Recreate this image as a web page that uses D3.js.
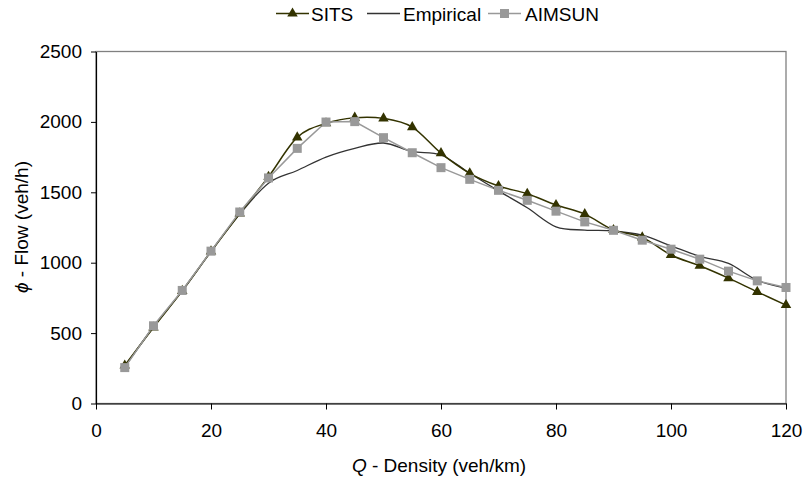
<!DOCTYPE html>
<html><head><meta charset="utf-8">
<script src="https://cdn.jsdelivr.net/npm/d3@7"></script>
<style>body{margin:0;background:#fff}svg{font-family:"Liberation Sans",Arial,sans-serif}</style>
</head><body><svg id="c" width="803" height="477"></svg>
<script>
const density = [5,10,15,20,25,30,35,40,45,50,55,60,65,70,75,80,85,90,95,100,105,110,115,120];
const sits = [270,540,800,1080,1350,1610,1890,1990,2030,2025,1963,1778,1635,1545,1490,1410,1345,1232,1180,1055,978,890,793,699];
const empirical = [260,545,800,1080,1345,1565,1655,1750,1812,1850,1790,1765,1635,1510,1390,1255,1232,1225,1195,1120,1045,995,875,820];
const aimsun = [255,552,803,1082,1360,1602,1812,1999,2002,1888,1781,1675,1592,1514,1443,1366,1290,1230,1160,1096,1025,940,871,824];
const xTicks = [0,20,40,60,80,100,120];
const yTicks = [0,500,1000,1500,2000,2500];

const FS = 19;
const svg = d3.select("#c");
const L=96,R=786,T=51.5,B=403.5;
const x = d3.scaleLinear().domain([0,120]).range([L,R]);
const y = d3.scaleLinear().domain([0,2500]).range([B,T]);

svg.append("rect").attr("x",L).attr("y",T).attr("width",R-L).attr("height",B-T)
  .attr("fill","none").attr("stroke","#808080").attr("stroke-width",1.3);

const xa = svg.append("g").attr("transform",`translate(0,${B})`)
  .call(d3.axisBottom(x).tickValues(xTicks).tickFormat(d3.format("d")).tickSize(6).tickSizeOuter(0).tickPadding(14));
const ya = svg.append("g").attr("transform",`translate(${L},0)`)
  .call(d3.axisLeft(y).tickValues(yTicks).tickFormat(d3.format("d")).tickSize(5).tickSizeOuter(0).tickPadding(9));
[xa,ya].forEach(a=>{
  a.selectAll("path").attr("stroke","#000").attr("stroke-width",1.2);
  a.selectAll("line").attr("stroke","#000");
  a.selectAll("text").attr("font-size",FS).attr("fill","#000").attr("font-family","Liberation Sans, Arial");
});

const pts = arr => density.map((d,i)=>[d,arr[i]]);
const smooth = d3.line().x(d=>x(d[0])).y(d=>y(d[1])).curve(d3.curveCatmullRom.alpha(0));
const straight = d3.line().x(d=>x(d[0])).y(d=>y(d[1]));

const cS="#333300", cE="#333333", cA="#999999";
svg.append("path").attr("d",smooth(pts(empirical))).attr("fill","none").attr("stroke",cE).attr("stroke-width",1.3);
svg.append("path").attr("d",smooth(pts(sits))).attr("fill","none").attr("stroke",cS).attr("stroke-width",1.5);
svg.append("path").attr("d",straight(pts(aimsun))).attr("fill","none").attr("stroke",cA).attr("stroke-width",1.5);

const tri = d3.symbol().type(d3.symbolTriangle).size(48);
svg.append("g").selectAll("path").data(pts(sits)).join("path")
  .attr("d",tri).attr("transform",d=>`translate(${x(d[0])},${y(d[1])})`).attr("fill",cS);
svg.append("g").selectAll("rect").data(pts(aimsun)).join("rect")
  .attr("x",d=>x(d[0])-4.5).attr("y",d=>y(d[1])-4.5).attr("width",9).attr("height",9).attr("fill",cA);

// legend
const lg = svg.append("g").attr("font-size",FS);
const items=[{n:"SITS",x0:276,tx:311,c:cS,m:"t"},{n:"Empirical",x0:367,tx:403,c:cE,m:null},{n:"AIMSUN",x0:488,tx:525,c:cA,m:"s"}];
items.forEach(it=>{
  const ly=13.5;
  lg.append("line").attr("x1",it.x0).attr("x2",it.x0+33).attr("y1",ly).attr("y2",ly).attr("stroke",it.c).attr("stroke-width",1.5);
  if(it.m==="t") lg.append("path").attr("d",tri).attr("transform",`translate(${it.x0+16.5},${ly})`).attr("fill",it.c);
  if(it.m==="s") lg.append("rect").attr("x",it.x0+12).attr("y",ly-4.5).attr("width",9).attr("height",9).attr("fill",it.c);
  lg.append("text").attr("x",it.tx).attr("y",ly+7).text(it.n).attr("fill","#000");
});

// axis titles
const xt = svg.append("text").attr("x",439).attr("y",472).attr("text-anchor","middle").attr("font-size",FS);
xt.append("tspan").attr("font-style","italic").text("Q");
xt.append("tspan").text("  - Density (veh/km)");
const yt = svg.append("text").attr("transform","translate(28,227) rotate(-90)").attr("text-anchor","middle").attr("font-size",FS);
yt.append("tspan").attr("font-style","italic").text("ϕ");
yt.append("tspan").text("  - Flow (veh/h)");
</script></body></html>
